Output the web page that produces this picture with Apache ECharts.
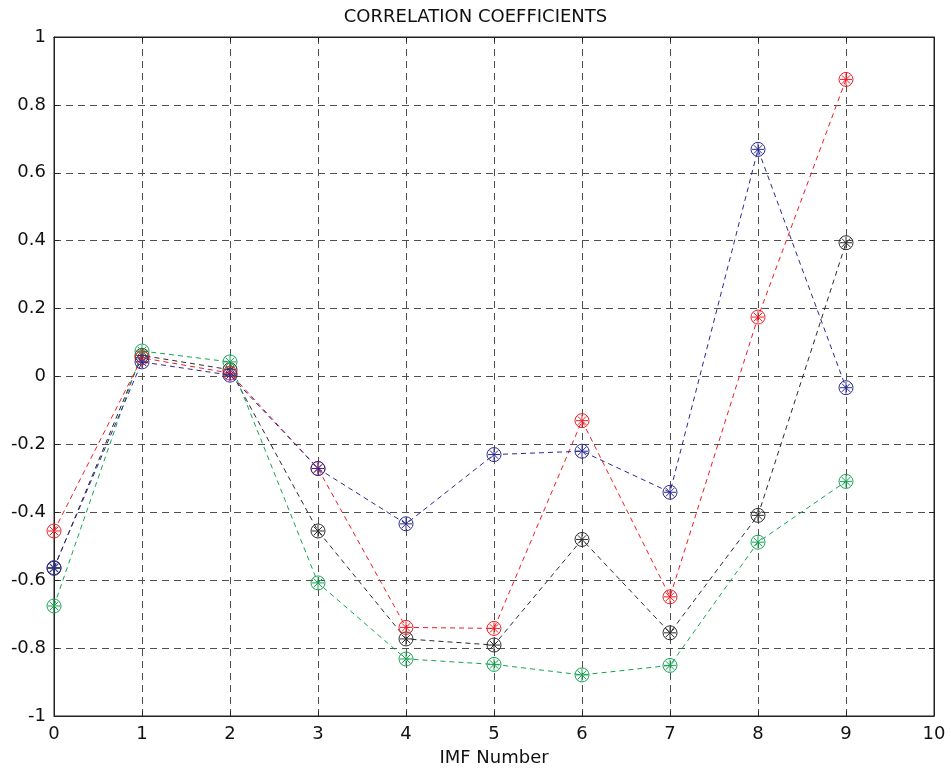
<!DOCTYPE html>
<html>
<head>
    <meta charset="UTF-8">
    <title>Correlation coefficients</title>
    <script src="https://cdn.jsdelivr.net/npm/echarts@6/dist/echarts.min.js"></script>
</head>
<body style="margin: 0;overflow: hidden;background: #fff;">
<div id="chart" style="width: 951px;height: 769px;"></div>
<script type="text/javascript">
    // IMF index 0..9
    var imf = [0, 1, 2, 3, 4, 5, 6, 7, 8, 9];
    var redVals = [-0.455, 0.055, 0.010, -0.271, -0.739, -0.742, -0.130, -0.649, 0.175, 0.875];
    var blackVals = [-0.565, 0.062, 0.020, -0.455, -0.773, -0.791, -0.480, -0.755, -0.409, 0.394];
    var greenVals = [-0.676, 0.075, 0.043, -0.608, -0.832, -0.848, -0.879, -0.851, -0.488, -0.309];
    var blueVals = [-0.563, 0.043, 0.004, -0.271, -0.434, -0.230, -0.220, -0.341, 0.669, -0.033];
    var xTicks = [0, 10, 1];
    var yTicks = [-1, 1, 0.2];

    // circle with an asterisk inside, like matlab's 'o' + '*'
    var starCircle = 'path://M0,-7A7,7 0 1,1 0,7A7,7 0 1,1 0,-7Z' +
        'M0,-6L0,6M-6,0L6,0M-4.2,-4.2L4.2,4.2M-4.2,4.2L4.2,-4.2';

    function pairs(vals) {
        return vals.map(function (v, i) { return [imf[i], v]; });
    }

    function mkSeries(name, vals, color) {
        return {
            name: name,
            type: 'line',
            data: pairs(vals),
            symbol: starCircle,
            symbolSize: 14,
            showAllSymbol: true,
            lineStyle: {color: color, width: 1, type: [5, 4]},
            itemStyle: {color: 'rgba(0,0,0,0)', borderColor: color, borderWidth: 1},
            emphasis: {disabled: true},
            z: 3
        };
    }

    var dashGrid = {show: true, lineStyle: {color: '#505050', type: [7, 5], width: 1}};
    var font = 'DejaVu Sans, Verdana, sans-serif';

    var chart = echarts.init(document.getElementById('chart'));
    chart.setOption({
        backgroundColor: '#fff',
        animation: false,
        title: {
            text: 'CORRELATION COEFFICIENTS',
            left: 'center',
            top: 3,
            textStyle: {fontFamily: font, fontSize: 18, fontWeight: 'normal', color: '#111'}
        },
        grid: {
            left: 54, right: 17, top: 37, bottom: 53,
            outerBoundsMode: 'none',
            show: true, borderColor: '#222', borderWidth: 1
        },
        xAxis: [{
            type: 'value',
            min: xTicks[0], max: xTicks[1], interval: xTicks[2],
            name: 'IMF Number',
            nameLocation: 'middle',
            nameGap: 33,
            nameTextStyle: {fontFamily: font, fontSize: 18, color: '#111'},
            axisLine: {onZero: false, lineStyle: {color: '#222', width: 1}},
            axisTick: {inside: true, length: 5, lineStyle: {color: '#222'}},
            axisLabel: {fontFamily: font, fontSize: 18, color: '#111', margin: 9},
            splitLine: dashGrid
        }, {
            type: 'value', position: 'top',
            min: xTicks[0], max: xTicks[1], interval: xTicks[2],
            axisLine: {onZero: false, lineStyle: {color: '#222'}},
            axisTick: {inside: true, length: 5, lineStyle: {color: '#222'}},
            axisLabel: {show: false},
            splitLine: {show: false}
        }],
        yAxis: [{
            type: 'value',
            min: yTicks[0], max: yTicks[1], interval: yTicks[2],
            axisLine: {show: true, onZero: false, lineStyle: {color: '#222', width: 1}},
            axisTick: {show: true, inside: true, length: 5, lineStyle: {color: '#222'}},
            axisLabel: {fontFamily: font, fontSize: 18, color: '#111', margin: 8},
            splitLine: dashGrid
        }, {
            type: 'value', position: 'right',
            min: yTicks[0], max: yTicks[1], interval: yTicks[2],
            axisLine: {show: true, onZero: false, lineStyle: {color: '#222'}},
            axisTick: {show: true, inside: true, length: 5, lineStyle: {color: '#222'}},
            axisLabel: {show: false},
            splitLine: {show: false}
        }],
        series: [
            mkSeries('black', blackVals, '#2b2b2b'),
            mkSeries('green', greenVals, '#15a552'),
            mkSeries('red', redVals, '#f01d24'),
            mkSeries('blue', blueVals, '#2a2a96')
        ]
    });
</script>
</body>
</html>
